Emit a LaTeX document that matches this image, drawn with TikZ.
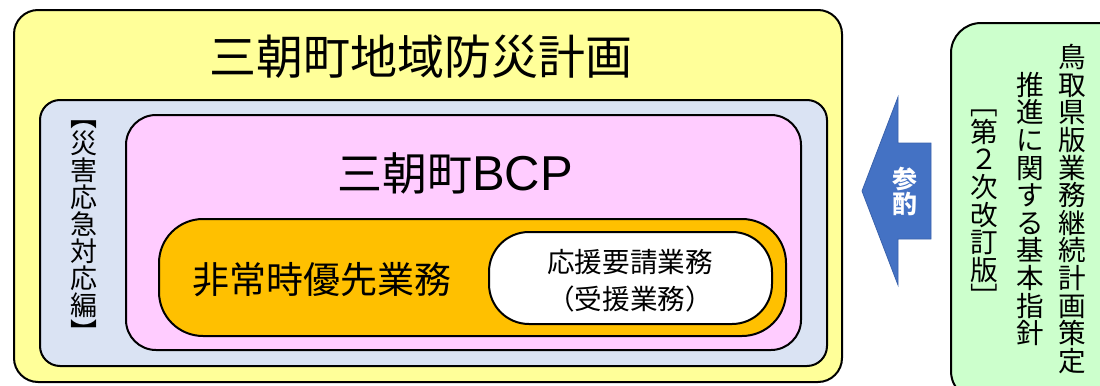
\documentclass[tikz,border=0pt]{standalone}
\usepackage{fontspec}
\setmainfont{Noto Sans CJK JP}
\newfontfamily\latinsf{Liberation Sans}
\definecolor{cyellow}{HTML}{FFFF99}
\definecolor{cblue}{HTML}{DAE3F3}
\definecolor{cpink}{HTML}{FFCCFF}
\definecolor{corange}{HTML}{FFC000}
\definecolor{cgreen}{HTML}{CCFFCC}
\definecolor{carrow}{HTML}{4472C4}
\definecolor{carrowdark}{HTML}{3A62AC}
\tikzset{
  box/.style={draw=black, line width=1pt, inner sep=0pt},
  vtext/.style={align=center, inner sep=0pt},
}
\newcommand{\fs}[1]{\fontsize{#1}{#1}\selectfont}
\begin{document}
\begin{tikzpicture}[x=0.5pt,y=-0.5pt]
\useasboundingbox (0,0) rectangle (1100,386);
\clip (0,0) rectangle (1100,386);
% outer yellow
\node[box, fill=cyellow, rounded corners=12pt, minimum width=414pt, minimum height=186pt] (plan) at (428,196) {};
\node[inner sep=0pt, font=\fs{23.5pt}] (plantitle) at (421,57) {三朝町地域防災計画};
% blue
\node[box, fill=cblue, rounded corners=10pt, minimum width=393.5pt, minimum height=133pt] (emerg) at (433.5,233) {};
\node[vtext, font=\fs{13.5pt}] (emergtext) at (84,231.5) {︻\\災\\害\\応\\急\\対\\応\\編\\︼};
% pink
\node[box, fill=cpink, rounded corners=15pt, minimum width=337.5pt, minimum height=117.5pt] (bcp) at (463.5,232.5) {};
\node[inner sep=0pt, font=\fs{22.5pt}] (bcptitle) at (455,173) {三朝町{\latinsf\fontsize{24.5pt}{24.5pt}\selectfont BCP}};
% orange
\node[box, fill=corange, rounded corners=22pt, minimum width=313.5pt, minimum height=58.5pt] (prio) at (472.5,277.5) {};
\node[inner sep=0pt, font=\fs{18.5pt}] (priotext) at (322,280) {非常時優先業務};
% white
\node[box, fill=white, rounded corners=20pt, minimum width=141.5pt, minimum height=46pt] (support) at (630.5,278) {};
\node[align=center, inner sep=0pt, font=\fontsize{13.8pt}{18.5pt}\selectfont] (supporttext) at (630,281) {応援要請業務\\（受援業務）};
% arrow
\coordinate (atip) at (862,191);
\draw[fill=carrow, draw=carrowdark, line width=0.4pt] (atip) -- (898,97) -- (898,143) -- (931,143) -- (931,239) -- (898,239) -- (898,285) -- cycle;
\node[vtext, text=white, font=\bfseries\fs{12.5pt}] (ref) at (905,191.5) {参\\酌};
% green
\node[box, fill=cgreen, rounded corners=15pt, minimum width=90pt, minimum height=189pt, anchor=north west] (guide) at (950,22) {};
\node[vtext, font=\fs{13.8pt}] (g1) at (1072,209) {鳥\\取\\県\\版\\業\\務\\継\\続\\計\\画\\策\\定};
\node[vtext, font=\fs{13.8pt}] (g2) at (1030,209) {推\\進\\に\\関\\す\\る\\基\\本\\指\\針};
\node[vtext, font=\fs{13.8pt}] (g3) at (984,209) {﹇\\第\\２\\次\\改\\訂\\版\\﹈};
\end{tikzpicture}
\end{document}
